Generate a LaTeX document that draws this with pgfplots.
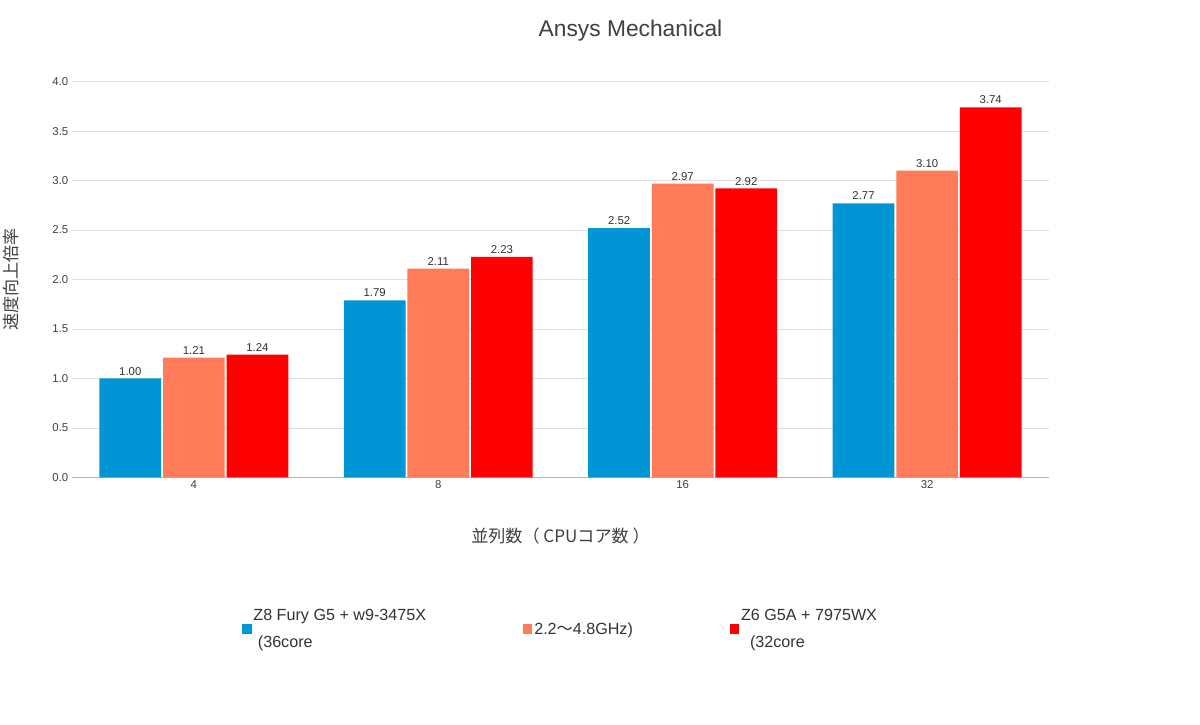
\documentclass[border=0pt]{standalone}
\usepackage{pgfplots}
\pgfplotsset{compat=1.18}
\usepackage{fontspec}
\setmainfont{Liberation Sans}
\newfontfamily\cjk{Noto Sans CJK JP}
\definecolor{cA}{HTML}{0096D6}
\definecolor{cB}{HTML}{FF7B5A}
\definecolor{cC}{HTML}{FF0000}
\begin{document}
\begin{tikzpicture}[x=1pt,y=1pt]
\fill[white] (0,0) rectangle (1200,763);
\node[font=\fontsize{24}{28}\selectfont, text=black!75] at (600,731) {Ansys Mechanical};
\begin{axis}[at={(140pt,260pt)}, anchor=origin, scale only axis,
 width=1030pt, height=417pt,
 ymin=0, ymax=4, xmin=-0.5, xmax=3.5,
 ytick={0,0.5,...,4}, yticklabel style={/pgf/number format/.cd,fixed,fixed zerofill,precision=1},
 /pgf/number format/assume math mode=true,
 xtick=data, xticklabels={4,8,16,32},
 tick label style={font=\fontsize{12}{14}\selectfont, text=black!75},
 axis lines=left, axis line style={-}, y axis line style={draw=none},
 x axis line style={black!30}, major tick length=0pt,
 ymajorgrids, grid style={black!12},
 ybar, bar width=65pt,
 nodes near coords, every node near coord/.append style={font=\fontsize{12}{14}\selectfont, text=black!80, /pgf/number format/.cd, fixed, fixed zerofill, precision=2},
 ylabel={\cjk 速度向上倍率}, ylabel style={font=\fontsize{18}{20}\selectfont, text=black!75, at={(-52pt,0.5)}, anchor=south},
 xlabel={\cjk 並列数（ CPUコア数 ）}, xlabel style={font=\fontsize{18}{20}\selectfont, text=black!75, at={(0.5,-50pt)}},
 legend columns=3,
 legend style={at={(0.5,-135pt)}, anchor=north, draw=none, font=\fontsize{17}{28}\selectfont, text=black!80,
   nodes={align=left, anchor=west}, /tikz/every even column/.append style={column sep=100pt}},
 legend image code/.code={\fill[#1] (0pt,-5pt) rectangle (10pt,5pt);},
]
\addplot[fill=cA, draw=none] coordinates {(0,1.00) (1,1.79) (2,2.52) (3,2.77)};
\addplot[fill=cB, draw=none] coordinates {(0,1.21) (1,2.11) (2,2.97) (3,3.10)};
\addplot[fill=cC, draw=none] coordinates {(0,1.24) (1,2.23) (2,2.92) (3,3.74)};
\legend{Z8 Fury G5 + w9-3475X\\ \ (36core, 2.2{\cjk ～}4.8GHz), Z6 G5A + 7975WX\\ \ \ (32core, 4.0{\cjk ～}5.3GHz), Z6 G5A + 7995WX\\ \ \ (96core, 2.5{\cjk ～}5.1GHz)}
\end{axis}
\end{tikzpicture}
\end{document}
